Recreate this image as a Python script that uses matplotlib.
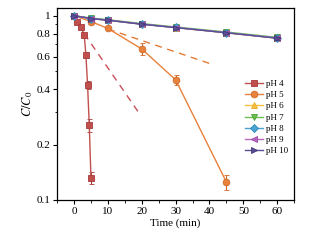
import matplotlib
matplotlib.use("Agg")
import matplotlib.pyplot as plt
from matplotlib.lines import Line2D
from matplotlib.ticker import FixedLocator, MultipleLocator, NullFormatter

plt.rcParams['font.family'] = ['Liberation Serif', 'DejaVu Serif']
plt.rcParams['mathtext.fontset'] = 'stix'

# ---- data ----
t_ph4 = [0, 1, 2, 3, 3.5, 4, 4.5, 5]
ph4 = [1.0, 0.92, 0.87, 0.79, 0.615, 0.42, 0.254, 0.132]
ph4_err = [0.01, 0.01, 0.01, 0.01, 0.015, 0.02, 0.02, 0.01]

t_ph5 = [0, 5, 10, 20, 30, 45]
ph5 = [1.0, 0.93, 0.853, 0.66, 0.449, 0.125]
ph5_err = [0.01, 0.01, 0.015, 0.05, 0.03, 0.012]

t_long = [0, 5, 10, 20, 30, 45, 60]
ph6 = [1.0, 0.965, 0.945, 0.900, 0.862, 0.808, 0.755]
ph7 = [1.0, 0.972, 0.952, 0.907, 0.869, 0.816, 0.763]
ph8 = [1.0, 0.966, 0.946, 0.900, 0.864, 0.810, 0.757]
ph9 = [1.0, 0.966, 0.947, 0.901, 0.863, 0.809, 0.756]
ph10 = [1.0, 0.965, 0.945, 0.899, 0.862, 0.808, 0.755]
long_err = [0.01, 0.01, 0.01, 0.01, 0.012, 0.012, 0.012]

# dashed fit lines (endpoints)
fit4_t = [3, 19]
fit4_v = [0.80, 0.30]
fit5_t = [10, 40]
fit5_v = [0.847, 0.551]

yticks = [0.1, 0.2, 0.4, 0.6, 0.8, 1]
ytick_labels = ['0.1', '0.2', '0.4', '0.6', '0.8', '1']
xticks = [0, 10, 20, 30, 40, 50, 60]

# ---- plot ----
fig = plt.figure(figsize=(3.32, 2.46), dpi=100)
ax = fig.add_axes([0.172, 0.187, 0.714, 0.780])

ax.plot(fit4_t, fit4_v, ls=(0, (5, 4)), color='#c8505a', lw=1.0, zorder=1)
ax.plot(fit5_t, fit5_v, ls=(0, (5, 4)), color='#e07b39', lw=1.0, zorder=1)

series = [
    (t_ph4, ph4, ph4_err, 'pH 4', 's', '#c0504d', '#a83a3a'),
    (t_ph5, ph5, ph5_err, 'pH 5', 'o', '#e8823c', '#d06a28'),
    (t_long, ph6, long_err, 'pH 6', '^', '#f5c242', '#e8a820'),
    (t_long, ph7, long_err, 'pH 7', 'v', '#6cc04e', '#4aa03a'),
    (t_long, ph8, long_err, 'pH 8', 'D', '#4ba3d3', '#2f88bb'),
    (t_long, ph9, long_err, 'pH 9', '<', '#b865c0', '#9a48a2'),
    (t_long, ph10, long_err, 'pH 10', '>', '#5c4e94', '#443878'),
]
handles = []
for i, (t, v, e, lab, m, fc, ec) in enumerate(series):
    ms = 4.0 if m == 'D' else 4.8
    ax.errorbar(t, v, yerr=e, fmt='-', marker=m, color=fc, mfc=fc, mec=ec,
                mew=0.6, ms=ms, lw=1.0, elinewidth=0.8, capsize=1.8,
                capthick=0.8, ecolor=ec, zorder=2 + i)
    handles.append(Line2D([], [], color=fc, marker=m, mfc=fc, mec=ec,
                          mew=0.6, ms=ms, lw=1.0, label=lab))

ax.set_yscale('log')
ax.set_xlim(-5, 65)
ax.set_ylim(0.1, 1.1)
ax.yaxis.set_major_locator(FixedLocator(yticks))
ax.set_yticklabels(ytick_labels)
ax.yaxis.set_minor_formatter(NullFormatter())
ax.set_xticks(xticks)
ax.xaxis.set_minor_locator(MultipleLocator(5))

ax.tick_params(which='both', direction='out', labelsize=8, top=False, right=False)
ax.tick_params(which='major', length=3, width=0.8, pad=2)
ax.tick_params(which='minor', length=1.8, width=0.6)
for s in ax.spines.values():
    s.set_linewidth(0.9)

ax.set_xlabel('Time (min)', fontsize=8, labelpad=2)
ax.set_ylabel('$C/C_0$', fontsize=9, labelpad=1)

ax.legend(handles=handles, loc='lower right', bbox_to_anchor=(1.0, 0.2),
          frameon=False, fontsize=6.5, handlelength=2.0, handletextpad=0.3,
          labelspacing=0.32, borderaxespad=0.3)

fig.savefig('out.png', dpi=100)
